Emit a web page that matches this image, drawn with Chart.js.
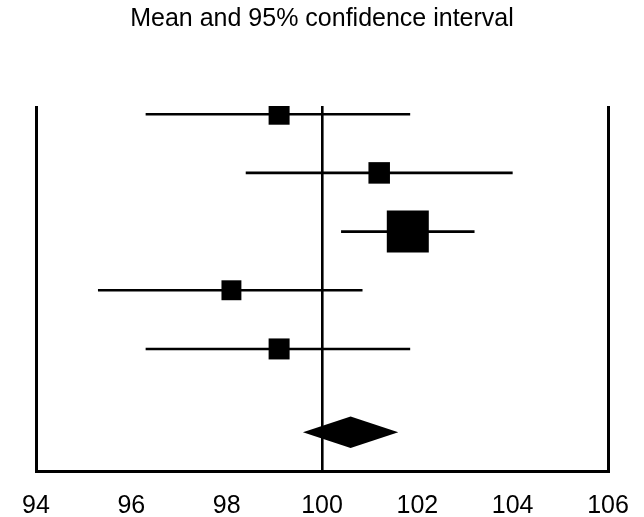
<!DOCTYPE html>
<html>
<head>
<meta charset="utf-8">
<script src="https://cdn.jsdelivr.net/npm/chart.js@4/dist/chart.umd.min.js"></script>
<style>
  html, body { margin: 0; padding: 0; background: #fff; }
  #wrap { width: 644px; height: 517px; }
</style>
</head>
<body>
<div id="wrap"><canvas id="c" width="644" height="517"></canvas></div>
<script>
// Study rows: mean with lower/upper 95% limits and relative weight
const studies = ['Study 1', 'Study 2', 'Study 3', 'Study 4', 'Study 5'];
const means   = [99.1, 101.2, 101.8, 98.1, 99.1];
const lower   = [96.3, 98.4, 100.4, 95.3, 96.3];
const upper   = [101.85, 104.0, 103.2, 100.85, 101.85];
const weights = [1.0, 1.05, 4.0, 0.9, 1.0];

// Pooled estimate
const pooledMean  = 100.6;
const pooledLower = 99.6;
const pooledUpper = 101.6;

// Axis ticks
const xTicks = [94, 96, 98, 100, 102, 104, 106];
const refValue = 100;

const rowY = studies.map((_, i) => i + 1);
const pooledY = studies.length + 1.42;

const BASE_SIDE = 21;          // square side (px) for unit weight
const DIAMOND_HALF_H = 0.27;   // half height of the diamond, in row units
const FONT = '"Liberation Sans", Arial, Helvetica, sans-serif';

// One line dataset per confidence interval
const ciSets = studies.map((s, i) => ({
  type: 'line',
  label: s + ' CI',
  data: [{x: lower[i], y: rowY[i]}, {x: upper[i], y: rowY[i]}],
  borderColor: '#000',
  borderWidth: 2.6,
  pointRadius: 0,
  fill: false
}));

// Means drawn as squares whose area follows the weight
const meanSet = {
  type: 'scatter',
  label: 'Mean',
  data: means.map((m, i) => ({x: m, y: rowY[i]})),
  pointStyle: 'rect',
  pointRadius: weights.map(w => BASE_SIDE * Math.sqrt(w) / (2 * Math.SQRT1_2)),
  backgroundColor: '#000',
  borderColor: '#000',
  borderWidth: 0
};

// Pooled diamond drawn through the chart scales
const diamondPlugin = {
  id: 'pooledDiamond',
  afterDatasetsDraw(chart) {
    const xs = chart.scales.x, ys = chart.scales.y, ctx = chart.ctx;
    ctx.save();
    ctx.fillStyle = '#000';
    ctx.beginPath();
    ctx.moveTo(xs.getPixelForValue(pooledLower), ys.getPixelForValue(pooledY));
    ctx.lineTo(xs.getPixelForValue(pooledMean), ys.getPixelForValue(pooledY - DIAMOND_HALF_H));
    ctx.lineTo(xs.getPixelForValue(pooledUpper), ys.getPixelForValue(pooledY));
    ctx.lineTo(xs.getPixelForValue(pooledMean), ys.getPixelForValue(pooledY + DIAMOND_HALF_H));
    ctx.closePath();
    ctx.fill();
    ctx.restore();
  }
};

const edgeTicks = [xTicks[0], xTicks[xTicks.length - 1]];

new Chart(document.getElementById('c'), {
  type: 'scatter',
  data: { datasets: [...ciSets, meanSet] },
  plugins: [diamondPlugin],
  options: {
    responsive: false,
    animation: false,
    layout: { padding: { left: 36, right: 36, top: 0, bottom: 0 } },
    plugins: {
      legend: { display: false },
      tooltip: { enabled: false },
      title: {
        display: true,
        text: 'Mean and 95% confidence interval',
        color: '#000',
        font: { family: FONT, size: 25, weight: 'normal' },
        padding: { top: 4, bottom: 72 }
      }
    },
    scales: {
      x: {
        type: 'linear',
        min: xTicks[0],
        max: xTicks[xTicks.length - 1],
        afterBuildTicks: (scale) => { scale.ticks = xTicks.map(v => ({ value: v })); },
        afterFit: (scale) => {
          scale.height = 46;
          scale.paddingLeft = 0;
          scale.paddingRight = 0;
        },
        ticks: {
          color: '#000',
          padding: 20,
          maxRotation: 0,
          autoSkip: false,
          font: { family: FONT, size: 25, weight: 'normal' }
        },
        grid: {
          drawTicks: false,
          color: (ctx) => (ctx.tick && (edgeTicks.includes(ctx.tick.value) || ctx.tick.value === refValue)) ? '#000' : 'rgba(0,0,0,0)',
          lineWidth: (ctx) => (ctx.tick && ctx.tick.value === refValue) ? 2.6 : 3
        },
        border: { display: true, color: '#000', width: 3 }
      },
      y: {
        type: 'linear',
        display: false,
        reverse: true,
        min: 0.86,
        max: 7.08
      }
    }
  }
});
</script>
</body>
</html>
